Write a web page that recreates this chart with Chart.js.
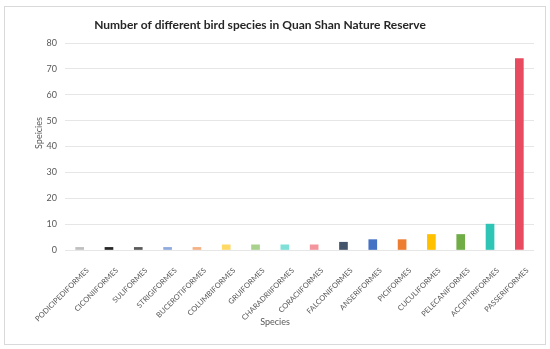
<!DOCTYPE html>
<html>
<head>
<meta charset="utf-8">
<script src="https://cdn.jsdelivr.net/npm/chart.js@4.4.1/dist/chart.umd.min.js"></script>
<style>
    body { margin: 0; background: #fff; }
    .wrap { position: relative; width: 550px; height: 349px; }
    .frame { position: absolute; left: 4px; top: 6px; width: 540px; height: 337px; border: 1px solid #d9d9d9; }
    canvas { position: absolute; left: 0; top: 0; }
</style>
</head>
<body>
<div class="wrap">
    <div class="frame"></div>
    <canvas id="birdChart" width="550" height="349"></canvas>
</div>
<script>
// Chart data
const orders = ['PODICIPEDIFORMES', 'CICONIIFORMES', 'SULIFORMES', 'STRIGIFORMES', 'BUCEROTIFORMES',
    'COLUMBIFORMES', 'GRUIFORMES', 'CHARADRIIFORMES', 'CORACIIFORMES', 'FALCONIFORMES',
    'ANSERIFORMES', 'PICIFORMES', 'CUCULIFORMES', 'PELECANIFORMES', 'ACCIPITRIFORMES', 'PASSERIFORMES'];
const speciesCount = [1, 1, 1, 1, 1, 2, 2, 2, 2, 3, 4, 4, 6, 6, 10, 74];
const yTicks = [0, 10, 20, 30, 40, 50, 60, 70, 80];

const barColors = ['#bfbfbf', '#262626', '#595959', '#8faadc', '#f4b183', '#ffd966', '#a9d18e', '#7fe0d8',
    '#f4949c', '#44546a', '#4472c4', '#ed7d31', '#ffc000', '#70ad47', '#2ec4b6', '#e84a5f'];

const font = "'Lato', 'Open Sans', sans-serif";

// Titles are placed like the spreadsheet chart (centred on the frame, not on the plot)
const titlesPlugin = {
    id: 'titles',
    afterDraw: function(chart) {
        const ctx = chart.ctx;
        ctx.save();
        ctx.textAlign = 'center';
        ctx.textBaseline = 'middle';
        ctx.fillStyle = '#262626';
        ctx.font = 'bold 12px ' + font;
        ctx.fillText('Number of different bird species in Quan Shan Nature Reserve', 260, 25);

        ctx.fillStyle = '#595959';
        ctx.font = '9px ' + font;
        ctx.fillText('Species', 275, 322);

        ctx.translate(39, 133);
        ctx.rotate(-Math.PI / 2);
        ctx.fillText('Speicies', 0, 0);
        ctx.restore();
    }
};

new Chart(document.getElementById('birdChart'), {
    type: 'bar',
    data: {
        labels: orders,
        datasets: [{
            label: 'Species',
            data: speciesCount,
            backgroundColor: barColors,
            barThickness: 8
        }]
    },
    options: {
        responsive: false,
        animation: false,
        layout: {
            padding: { left: 10, right: 16, top: 43, bottom: 18 }
        },
        plugins: {
            legend: { display: false },
            tooltip: { enabled: false },
            title: { display: false }
        },
        scales: {
            x: {
                grid: { display: false },
                border: { display: false },
                ticks: {
                    color: '#595959',
                    font: { family: font, size: 7.5 },
                    minRotation: 45,
                    maxRotation: 45,
                    autoSkip: false,
                    padding: 8,
                    labelOffset: 8
                },
                afterFit: function(scale) { scale.height = 81; }
            },
            y: {
                min: 0,
                max: 80,
                afterBuildTicks: function(scale) {
                    scale.ticks = yTicks.map(v => ({ value: v }));
                },
                grid: { color: '#e6e6e6', drawTicks: false },
                border: { display: false },
                ticks: {
                    color: '#595959',
                    font: { family: font, size: 9 },
                    padding: 8
                },
                afterFit: function(scale) { scale.width = 55; }
            }
        }
    },
    plugins: [titlesPlugin]
});
</script>
</body>
</html>
